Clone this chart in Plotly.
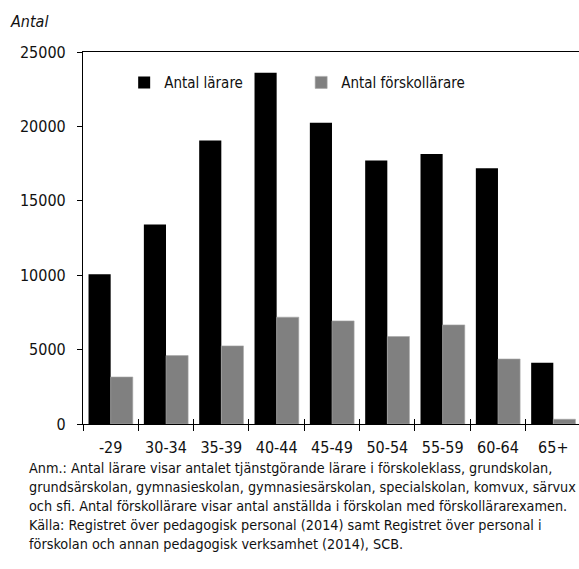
import plotly.graph_objects as go

# Age groups and head counts
age_groups = ["-29", "30-34", "35-39", "40-44", "45-49", "50-54", "55-59", "60-64", "65+"]
antal_larare = [10070, 13400, 19060, 23600, 20250, 17700, 18150, 17180, 4120]
antal_forskollarare = [3160, 4600, 5250, 7180, 6930, 5880, 6660, 4370, 320]

y_ticks = [0, 5000, 10000, 15000, 20000, 25000]

FONT = "DejaVu Sans Condensed, DejaVu Sans, sans-serif"
INK = "#111111"

note_lines = [
    "Anm.: Antal lärare visar antalet tjänstgörande lärare i förskoleklass, grundskolan,",
    "grundsärskolan, gymnasieskolan, gymnasiesärskolan, specialskolan, komvux, särvux",
    "och sfi. Antal förskollärare visar antal anställda i förskolan med förskollärarexamen.",
    "Källa: Registret över pedagogisk personal (2014) samt Registret över personal i",
    "förskolan och annan pedagogisk verksamhet (2014), SCB.",
]


def font(size):
    return dict(family=FONT, size=size, color=INK)


W, H = 579, 569
ML, MT, MB, MR = 83, 52, 145, 0
plot_w = W - ML - MR
plot_h = H - MT - MB
cat_w = 55.33
x_hi = -0.5 + plot_w / cat_w

fig = go.Figure()
fig.add_trace(go.Bar(x=age_groups, y=antal_larare, name="Antal lärare",
                     marker=dict(color="#000000", line=dict(width=0))))
fig.add_trace(go.Bar(x=age_groups, y=antal_forskollarare, name="Antal förskollärare",
                     marker=dict(color="#808080", line=dict(color="#a8a8a8", width=0.6))))

# invisible helper trace so the inner tick axis renders
fig.add_trace(go.Scatter(x=[0], y=[0], xaxis="x2", mode="markers",
                         marker=dict(opacity=0), showlegend=False, hoverinfo="skip"))

boundaries = [i + 0.5 for i in range(len(age_groups) - 1)]

fig.update_layout(
    width=W, height=H,
    margin=dict(l=ML, r=MR, t=MT, b=MB, pad=0),
    paper_bgcolor="white", plot_bgcolor="white",
    font=font(15),
    barmode="group", bargap=0.2, bargroupgap=0,
    showlegend=True,
    legend=dict(orientation="h", x=0.083, xanchor="left", y=0.962, yanchor="top",
                font=font(15), bgcolor="rgba(0,0,0,0)",
                entrywidth=132, entrywidthmode="pixels", traceorder="normal"),
    xaxis=dict(type="category", range=[-0.5, x_hi], showgrid=False,
               showline=True, linecolor="#000000", linewidth=1.2, mirror=True,
               ticks="outside", ticklen=6, tickcolor="#000000", tickwidth=1.2,
               tickson="boundaries", ticklabelstandoff=9, tickfont=font(16)),
    xaxis2=dict(type="linear", range=[-0.5, x_hi], overlaying="x", anchor="y",
                side="bottom", showgrid=False, showline=False, zeroline=False,
                tickvals=boundaries, ticks="inside", ticklen=5, tickcolor="#000000",
                tickwidth=1.2, showticklabels=False),
    yaxis=dict(range=[0, 25000], tickvals=y_ticks, tickformat="d", showgrid=False,
               zeroline=False, showline=True, linecolor="#000000", linewidth=1.2,
               ticks="outside", ticklen=5, tickcolor="#000000", tickwidth=1.2,
               ticklabelstandoff=8, tickfont=font(16)),
)

# axis title in the top-left corner
fig.add_annotation(text="<i>Antal</i>", xref="paper", yref="paper",
                   x=-(ML - 8) / plot_w, y=1 + (MT - 21) / plot_h,
                   xanchor="left", yanchor="middle", showarrow=False, font=font(16))

# source note below the chart
for i, line in enumerate(note_lines):
    fig.add_annotation(text=line, xref="paper", yref="paper",
                       x=-(ML - 27) / plot_w, y=-(44 + 19 * i) / plot_h,
                       xanchor="left", yanchor="middle", showarrow=False, align="left",
                       font=font(14.3))

# narrow type face for all chart text
condensed_css = (
    "var s=document.createElement('style');"
    "s.textContent='svg text{font-stretch:condensed !important;}';"
    "document.head.appendChild(s);"
)

fig.write_html("out.html", post_script=condensed_css)
